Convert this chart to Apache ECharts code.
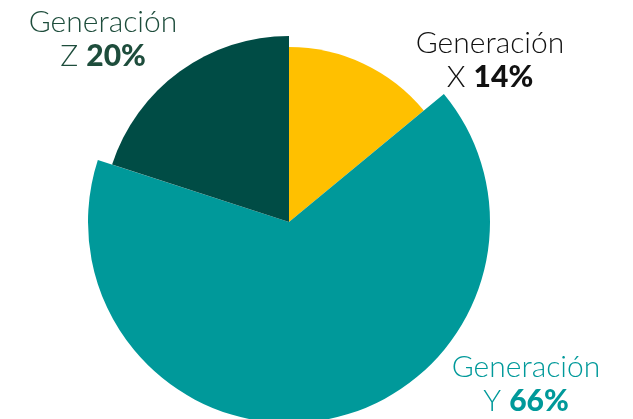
<!DOCTYPE html>
<html>
<head>
<meta charset="utf-8">
<script src="https://cdn.jsdelivr.net/npm/echarts@6/dist/echarts.min.js"></script>
<style>
  html, body { margin: 0; padding: 0; background: #fff; }
  #chart { width: 633px; height: 419px; }
</style>
</head>
<body>
<div id="chart"></div>
<script>
// datos del gráfico
var generaciones = ['X', 'Y', 'Z'];
var porcentajes = [14, 66, 20];
var colores = ['#ffc000', '#00999a', '#004c45'];
var radios = [175, 201, 186];
var colorTexto = ['#111111', '#00999a', '#1e4d3c'];
var posTexto = [[490, 60], [526, 384], [103, 39]];

var myChart = echarts.init(document.getElementById('chart'));

// una serie por porción para poder usar radios distintos
var series = [];
for (let i = 0; i < generaciones.length; i++) {
  let datos = [];
  for (let j = 0; j < generaciones.length; j++) {
    datos.push({
      name: 'Generación ' + generaciones[j],
      value: porcentajes[j],
      itemStyle: { color: i === j ? colores[j] : 'rgba(0,0,0,0)' }
    });
  }
  series.push({
    type: 'pie',
    center: [289, 222],
    radius: [0, radios[i]],
    startAngle: 90,
    clockwise: true,
    silent: true,
    animation: false,
    label: { show: false },
    labelLine: { show: false },
    emphasis: { disabled: true },
    data: datos
  });
}

// etiquetas de texto
var textos = [];
for (let i = 0; i < generaciones.length; i++) {
  textos.push({
    type: 'text',
    x: posTexto[i][0],
    y: posTexto[i][1],
    style: {
      text: '{a|Generación}\n{a|' + generaciones[i] + ' }{b|' + porcentajes[i] + '%}',
      align: 'center',
      verticalAlign: 'middle',
      fill: colorTexto[i],
      rich: {
        a: { fontFamily: 'Lato', fontSize: 30, fontWeight: 300, fill: colorTexto[i], lineHeight: 34 },
        b: { fontFamily: 'Lato', fontSize: 30, fontWeight: 900, fill: colorTexto[i], lineHeight: 34 }
      }
    }
  });
}

myChart.setOption({
  backgroundColor: '#ffffff',
  series: series,
  graphic: textos
});
</script>
</body>
</html>
